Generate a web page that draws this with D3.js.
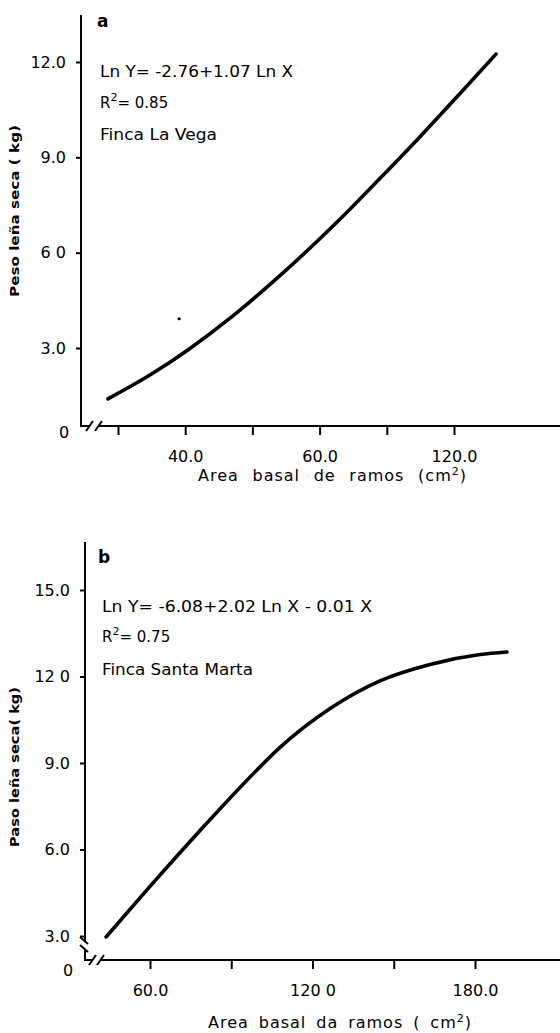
<!DOCTYPE html>
<html>
<head>
<meta charset="utf-8">
<script src="https://cdn.jsdelivr.net/npm/d3@7"></script>
<style>
  html, body { margin: 0; padding: 0; background: #fff; }
  svg { display: block; }
  text { font-family: "DejaVu Sans", sans-serif; fill: #000; }
</style>
</head>
<body>
<svg id="chart" width="560" height="1033"></svg>
<script>
// ---------- Data: panel a (Finca La Vega) ----------
const curveAX = [17.0, 29.5, 40.8, 54.2, 67.6, 76.3, 88.2, 98.0, 109.9, 121.8, 132.5];
const curveAY = [1.40, 2.15, 2.94, 4.01, 5.22, 6.06, 7.28, 8.34, 9.65, 11.01, 12.25];
const pointAX = [38.2];
const pointAY = [3.92];
const xTicksA = [20, 40, 60, 80, 100, 120];
const xTickLabelsA = ["", "40.0", "", "60.0", "", "120.0"];
const yTicksA = [3, 6, 9, 12];
const yTickLabelsA = ["3.0", "6 0", "9.0", "12.0"];
const annotA = ["Ln  Y= -2.76+1.07  Ln  X", "0.85", "Finca La Vega"];

// ---------- Data: panel b (Finca Santa Marta) ----------
const curveBX = [43.8, 60.0, 78.5, 99.5, 108.0, 126.5, 144.9, 163.4, 181.9, 191.8];
const curveBY = [2.97, 4.72, 6.66, 8.76, 9.54, 10.89, 11.85, 12.42, 12.76, 12.85];
const xTicksB = [60, 90, 120, 150, 180];
const xTickLabelsB = ["60.0", "", "120 0", "", "180.0"];
const yTicksB = [3, 6, 9, 12, 15];
const yTickLabelsB = ["3.0", "6.0", "9.0", "12 0", "15.0"];
const annotB = ["Ln  Y= -6.08+2.02  Ln  X - 0.01 X", "0.75", "Finca Santa Marta"];

const xLabelA = "Area basal de ramos (cm";
const xLabelB = "Area basal da ramos ( cm";
const yLabelA = "Peso leña seca ( kg)";
const yLabelB = "Paso leña seca( kg)";

const svg = d3.select("#chart");

function panel(cfg) {
  const g = svg.append("g");
  const x = d3.scaleLinear().domain(cfg.xDomain).range(cfg.xRange);
  const y = d3.scaleLinear().domain(cfg.yDomain).range(cfg.yRange);
  const ax = cfg.axisX, ay = cfg.axisY;

  const axisStyle = s => s.attr("stroke", "#000").attr("stroke-width", 2).attr("fill", "none");
  // vertical axis
  g.append("line").attr("x1", ax).attr("x2", ax).attr("y1", cfg.yTop).attr("y2", cfg.yBreak ? cfg.yBreak[0] : ay).call(axisStyle);
  if (cfg.yBreak) {
    g.append("line").attr("x1", ax).attr("x2", ax).attr("y1", cfg.yBreak[1]).attr("y2", ay).call(axisStyle);
    cfg.yBreak.forEach(yy => {
      g.append("line").attr("x1", ax - 5).attr("y1", yy - 4).attr("x2", ax + 3).attr("y2", yy + 3).call(axisStyle);
    });
  }
  // horizontal axis with break
  g.append("line").attr("x1", ax - 1).attr("x2", cfg.xBreak[0]).attr("y1", ay).attr("y2", ay).call(axisStyle);
  g.append("line").attr("x1", cfg.xBreak[1]).attr("x2", 560).attr("y1", ay).attr("y2", ay).call(axisStyle);
  cfg.xBreak.forEach(xx => {
    g.append("line").attr("x1", xx - 4).attr("y1", ay + 5).attr("x2", xx + 3).attr("y2", ay - 5).call(axisStyle);
  });

  // x axis ticks
  const xAxis = d3.axisBottom(x).tickValues(cfg.xTicks)
    .tickFormat((d, i) => cfg.xTickLabels[i]).tickSize(9).tickPadding(16).tickSizeOuter(0);
  const gx = g.append("g").attr("transform", `translate(0,${ay})`).call(xAxis);
  gx.select(".domain").remove();
  gx.selectAll(".tick line").attr("stroke", "#000").attr("stroke-width", 2);
  gx.selectAll(".tick text").attr("font-size", 16).attr("font-family", "DejaVu Sans").attr("fill", "#000");

  // y axis ticks
  const yAxis = d3.axisLeft(y).tickValues(cfg.yTicks)
    .tickFormat((d, i) => cfg.yTickLabels[i]).tickSize(5).tickPadding(cfg.yPad).tickSizeOuter(0);
  const gy = g.append("g").attr("transform", `translate(${ax},0)`).call(yAxis);
  gy.select(".domain").remove();
  gy.selectAll(".tick line").attr("stroke", "#000").attr("stroke-width", 2);
  gy.selectAll(".tick text").attr("font-size", 16).attr("font-family", "DejaVu Sans").attr("fill", "#000");

  // zero label at the corner
  g.append("text").attr("x", cfg.zero[0]).attr("y", cfg.zero[1]).attr("text-anchor", "middle")
    .attr("dominant-baseline", "central").attr("font-size", 16).text("0");

  // curve
  const pts = cfg.cx.map((v, i) => [v, cfg.cy[i]]);
  const line = d3.line().x(d => x(d[0])).y(d => y(d[1])).curve(d3.curveMonotoneX);
  g.append("path").attr("d", line(pts)).attr("fill", "none").attr("stroke", "#000")
    .attr("stroke-width", 3.6).attr("stroke-linecap", "round");

  if (cfg.px) {
    g.selectAll("circle.pt").data(cfg.px.map((v, i) => [v, cfg.py[i]])).enter()
      .append("circle").attr("cx", d => x(d[0])).attr("cy", d => y(d[1])).attr("r", 1.6).attr("fill", "#000");
  }

  // panel letter
  g.append("text").attr("x", cfg.letterPos[0]).attr("y", cfg.letterPos[1]).attr("font-size", 17)
    .attr("font-weight", "bold").text(cfg.letter);

  // annotations
  const a = cfg.annot;
  g.append("text").attr("x", cfg.annX).attr("y", cfg.annY[0]).attr("font-size", 15)
    .attr("textLength", cfg.annW[0]).attr("lengthAdjust", "spacingAndGlyphs").text(a[0]);
  const r2 = g.append("text").attr("x", cfg.annX).attr("y", cfg.annY[1]).attr("font-size", 15);
  r2.append("tspan").text("R");
  r2.append("tspan").attr("dy", -7).attr("font-size", 11).text("2");
  r2.append("tspan").attr("dy", 7).text("= " + a[1]);
  g.append("text").attr("x", cfg.annX).attr("y", cfg.annY[2]).attr("font-size", 15)
    .attr("textLength", cfg.annW[2]).attr("lengthAdjust", "spacingAndGlyphs").text(a[2]);

  // y label
  g.append("text").attr("transform", `translate(${cfg.yLabelPos[0]},${cfg.yLabelPos[1]}) rotate(-90)`)
    .attr("text-anchor", "middle").attr("font-size", 13).attr("font-weight", "bold")
    .attr("textLength", cfg.yLabelW).attr("lengthAdjust", "spacingAndGlyphs").text(cfg.yLabel);

  // x label, word spacing stretched to the measured width
  const xl = g.append("text").attr("x", cfg.xLabelPos[0]).attr("y", cfg.xLabelPos[1])
    .attr("font-size", 16).attr("letter-spacing", 1);
  xl.append("tspan").text(cfg.xLabel);
  xl.append("tspan").attr("dy", -6).attr("font-size", 11).text("2");
  xl.append("tspan").attr("dy", 6).text(")");
  const natural = xl.node().getComputedTextLength();
  const spaces = (cfg.xLabel.match(/ /g) || []).length;
  if (spaces > 0) xl.attr("word-spacing", Math.max(0, (cfg.xLabelW - natural) / spaces));
}

panel({
  xDomain: [20, 120], xRange: [118, 454],
  yDomain: [3, 12], yRange: [348, 62],
  axisX: 81, axisY: 426, yTop: 15, yBreak: null, xBreak: [90, 99],
  xTicks: xTicksA, xTickLabels: xTickLabelsA,
  yTicks: yTicksA, yTickLabels: yTickLabelsA, yPad: 10,
  zero: [64, 432],
  cx: curveAX, cy: curveAY, px: pointAX, py: pointAY,
  letter: "a", letterPos: [97, 27],
  annot: annotA, annX: 100, annY: [77, 108, 140], annW: [193, 0, 117],
  yLabel: yLabelA, yLabelPos: [19, 211], yLabelW: 172,
  xLabel: xLabelA, xLabelPos: [198, 481], xLabelW: 269
});

panel({
  xDomain: [60, 180], xRange: [150, 475],
  yDomain: [3, 15], yRange: [936, 590],
  axisX: 85, axisY: 960, yTop: 542, yBreak: [941, 949], xBreak: [93, 101],
  xTicks: xTicksB, xTickLabels: xTickLabelsB,
  yTicks: yTicksB, yTickLabels: yTickLabelsB, yPad: 10,
  zero: [68, 970],
  cx: curveBX, cy: curveBY, px: null, py: null,
  letter: "b", letterPos: [98, 563],
  annot: annotB, annX: 102, annY: [612, 642, 675], annW: [270, 0, 151],
  yLabel: yLabelB, yLabelPos: [19, 767], yLabelW: 160,
  xLabel: xLabelB, xLabelPos: [208, 1028], xLabelW: 264
});
</script>
</body>
</html>
